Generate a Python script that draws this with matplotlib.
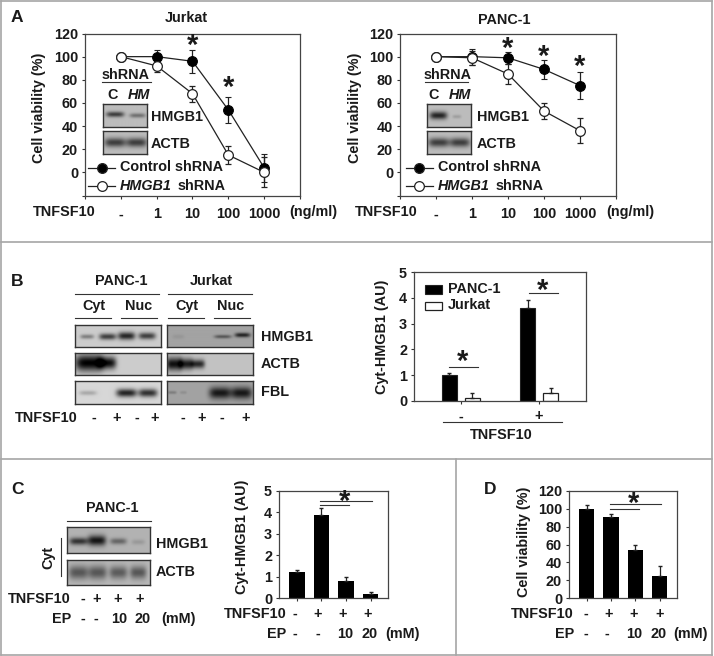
import numpy as np
import matplotlib
matplotlib.use("Agg")
import matplotlib.pyplot as plt
from matplotlib.lines import Line2D
from matplotlib.patches import Rectangle

plt.rcParams['font.family'] = ['Liberation Sans', 'DejaVu Sans']
plt.rcParams['font.weight'] = 'bold'
plt.rcParams['axes.linewidth'] = 0.9
plt.rcParams['axes.edgecolor'] = '#444444'
plt.rcParams['text.color'] = '#1a1a1a'
plt.rcParams['xtick.color'] = '#333333'
plt.rcParams['ytick.color'] = '#333333'
plt.rcParams['xtick.labelcolor'] = '#1a1a1a'
plt.rcParams['ytick.labelcolor'] = '#1a1a1a'

W, H = 714, 656
FS = 10.4

dose_labels = ['-', '1', '10', '100', '1000']
jurkat_ctrl = [100, 100, 96, 54, 4]
jurkat_ctrl_err = [0, 6, 10, 11, 12]
jurkat_hm = [100, 92, 68, 15, 0]
jurkat_hm_err = [0, 5, 7, 8, 13]
panc_ctrl = [100, 100, 99, 89, 75]
panc_ctrl_err = [0, 7, 5, 8, 12]
panc_hm = [100, 99, 85, 53, 36]
panc_hm_err = [0, 6, 9, 7, 11]

b_panc = [1.0, 3.6]
b_panc_err = [0.1, 0.3]
b_jurkat = [0.1, 0.3]
b_jurkat_err = [0.2, 0.2]

c_vals = [1.2, 3.9, 0.8, 0.2]
c_err = [0.1, 0.3, 0.2, 0.1]
d_vals = [100, 91, 54, 25]
d_err = [4, 3, 6, 11]

fig = plt.figure(figsize=(W / 100, H / 100), dpi=100, facecolor='white')


def box_axes(left, top, right, bottom):
    return fig.add_axes([left / W, 1 - bottom / H, (right - left) / W, (bottom - top) / H])


def txt(x, y, s, ha='center', size=FS, **kw):
    fig.text(x / W, 1 - y / H, s, ha=ha, va='center', fontsize=size, **kw)


def line(x0, y0, x1, y1, color='#333333', lw=0.8):
    fig.add_artist(Line2D([x0 / W, x1 / W], [1 - y0 / H, 1 - y1 / H], color=color, lw=lw))


def star(x, y):
    txt(x, y + 5, '*', size=21)


# gel picture, bands = (x centre, y centre, half width, half height, darkness) as fractions
def blot(left, top, right, bottom, bg, bands):
    ax = box_axes(left, top, right, bottom)
    ny, nx = int(bottom - top) * 3, int(right - left) * 3
    xx, yy = np.meshgrid(np.linspace(0, 1, nx), np.linspace(0, 1, ny))
    img = np.full((ny, nx), bg, dtype=float)
    for xc, yc, wx, wy, dark in bands:
        img -= dark * np.exp(-((xx - xc) / wx) ** 4 - ((yy - yc) / wy) ** 2)
    ax.imshow(np.clip(img, 0, 1), cmap='gray', vmin=0, vmax=1, aspect='auto')
    ax.set_xticks([])
    ax.set_yticks([])
    for s in ax.spines.values():
        s.set_color('#333333')
        s.set_linewidth(1.0)


def viability(left, right, ctrl, ctrl_err, hm, hm_err, ylab_x):
    ax = box_axes(left, 33.5, right, 195.5)
    x = np.arange(1, 6)
    ax.errorbar(x, ctrl, yerr=ctrl_err, color='#222222', lw=0.9, elinewidth=0.9, capsize=2.3,
                marker='o', ms=7.0, mfc='black', mec='black', mew=0.8)
    ax.errorbar(x, hm, yerr=hm_err, color='#222222', lw=0.9, elinewidth=0.9, capsize=2.3,
                marker='o', ms=7.0, mfc='white', mec='#222222', mew=0.9)
    ax.set_xlim(0, 6)
    ax.set_ylim(-20, 120)
    ax.set_xticks(np.arange(0, 7))
    ax.set_xticklabels([''] + dose_labels + [''], fontsize=FS)
    ax.set_yticks(np.arange(-20, 121, 20))
    ax.set_yticklabels([''] + [str(v) for v in range(0, 121, 20)], fontsize=FS)
    ax.tick_params(axis='x', length=2.5, width=0.8, pad=6)
    ax.tick_params(axis='y', length=2.5, width=0.8, pad=2.5)
    txt(ylab_x, 108, 'Cell viability (%)', rotation=90)
    return ax


def bars(left, right, vals, err, ymax, yticks):
    ax = box_axes(left, 491, right, 598)
    x = np.arange(len(vals))
    ax.bar(x, vals, width=0.63, color='black')
    ax.errorbar(x, vals, yerr=[np.zeros(len(err)), err], fmt='none', ecolor='#222222',
                elinewidth=0.9, capsize=1.5)
    ax.set_xlim(-0.73, 3.71)
    ax.set_ylim(0, ymax)
    ax.set_xticks(x)
    ax.set_xticklabels([])
    ax.set_yticks(yticks)
    ax.tick_params(axis='x', length=2, width=0.8)
    ax.tick_params(axis='y', length=2.5, width=0.8, labelsize=FS, pad=2.5)
    return ax


def sketch_inset(shr_x, line_x, c_x, hm_x, b_x, lab_x, leg_x, mark_x, text_x, sh_x, bands_top, bands_bot):
    txt(shr_x, 75, 'shRNA')
    line(line_x[0], 81.5, line_x[1], 81.5)
    txt(c_x, 95, 'C')
    txt(hm_x, 95, 'HM', style='italic')
    blot(b_x[0], 104, b_x[1], 127, 0.74, bands_top)
    blot(b_x[0], 131, b_x[1], 154, 0.74, bands_bot)
    txt(lab_x, 117, 'HMGB1', ha='left')
    txt(lab_x, 144, 'ACTB', ha='left')
    for y, fc in [(168, 'black'), (186, 'white')]:
        line(leg_x[0], y, leg_x[1], y, color='#222222', lw=0.9)
        fig.add_artist(Line2D([mark_x / W], [1 - y / H], marker='o', ms=7.0, mfc=fc, mec='#222222', mew=0.9))
    txt(text_x, 167, 'Control shRNA', ha='left')
    txt(text_x, 186, 'HMGB1', ha='left', style='italic')
    txt(sh_x, 186, 'shRNA', ha='left')


# panel frames
for seg in [(1, 1, 712, 1), (1, 1, 1, 655), (1, 655, 712, 655), (712, 1, 712, 655),
            (1, 242, 712, 242), (1, 459, 712, 459), (456, 459, 456, 655)]:
    line(*seg, color='#a6a6a6', lw=1.2)

# A
txt(11, 17, 'A', ha='left', size=12.5)
txt(186, 18, 'Jurkat')
txt(504, 20, 'PANC-1')
viability(85, 300, jurkat_ctrl, jurkat_ctrl_err, jurkat_hm, jurkat_hm_err, 39)
viability(400, 616, panc_ctrl, panc_ctrl_err, panc_hm, panc_hm_err, 355)
txt(33, 212, 'TNFSF10', ha='left')
txt(355, 212, 'TNFSF10', ha='left')
txt(289, 212, '(ng/ml)', ha='left')
txt(606, 212, '(ng/ml)', ha='left')
star(193, 41)
star(229, 83)
star(508, 44)
star(544, 52)
star(580, 62)
actb_pair = [(0.27, 0.5, 0.24, 0.2, 0.5), (0.75, 0.5, 0.23, 0.2, 0.5)]
sketch_inset(126, (102, 151), 113, 139, (103, 147), 151, (88, 115), 102, 120, 178,
             [(0.27, 0.45, 0.2, 0.12, 0.5), (0.77, 0.5, 0.18, 0.1, 0.3)], actb_pair)
sketch_inset(448, (425, 468), 434, 460, (427, 471), 477, (406, 433), 419, 438, 496,
             [(0.26, 0.5, 0.2, 0.17, 0.6), (0.68, 0.55, 0.1, 0.08, 0.12)], actb_pair)

# B
txt(11, 281, 'B', ha='left', size=12.5)
txt(121, 281, 'PANC-1')
txt(211, 281, 'Jurkat')
line(75, 294, 159, 294)
line(168, 294, 252, 294)
for cx, x0, x1, s in [(94, 75, 111, 'Cyt'), (139, 121, 157, 'Nuc'), (187, 168, 204, 'Cyt'), (231, 214, 250, 'Nuc')]:
    txt(cx, 306, s)
    line(x0, 318, x1, 318)

blot(75, 325, 161, 347, 0.80, [(0.14, 0.55, 0.08, 0.1, 0.3), (0.38, 0.55, 0.1, 0.14, 0.55),
                               (0.6, 0.52, 0.1, 0.17, 0.65), (0.84, 0.52, 0.1, 0.15, 0.55)])
blot(167, 325, 253, 347, 0.64, [(0.13, 0.55, 0.07, 0.1, 0.05), (0.65, 0.55, 0.1, 0.08, 0.3),
                                (0.88, 0.48, 0.09, 0.1, 0.5)])
blot(75, 353, 161, 375, 0.80, [(0.16, 0.45, 0.16, 0.38, 0.8), (0.37, 0.45, 0.11, 0.28, 0.75)])
blot(167, 353, 253, 375, 0.76, [(0.08, 0.5, 0.09, 0.3, 0.7), (0.22, 0.5, 0.08, 0.25, 0.65), (0.36, 0.5, 0.08, 0.2, 0.6)])
blot(75, 381, 161, 404, 0.84, [(0.15, 0.52, 0.1, 0.1, 0.18), (0.6, 0.52, 0.12, 0.18, 0.7), (0.85, 0.52, 0.11, 0.18, 0.65)])
blot(167, 381, 253, 404, 0.64, [(0.06, 0.5, 0.05, 0.07, 0.15), (0.19, 0.5, 0.04, 0.07, 0.08),
                                (0.62, 0.52, 0.13, 0.26, 0.55), (0.87, 0.52, 0.12, 0.26, 0.55)])
txt(261, 337, 'HMGB1', ha='left')
txt(261, 364, 'ACTB', ha='left')
txt(261, 392, 'FBL', ha='left')
txt(15, 418, 'TNFSF10', ha='left')
for x, s in zip([94, 117, 137, 155, 183, 202, 222, 246], '-+-+-+-+'):
    txt(x, 418, s)

ax = box_axes(414, 272, 586, 401)
x = np.arange(2)
ax.bar(x - 0.147, b_panc, width=0.19, color='black', edgecolor='#222222', lw=0.8)
ax.bar(x + 0.147, b_jurkat, width=0.19, color='white', edgecolor='#222222', lw=0.9)
ax.errorbar(x - 0.147, b_panc, yerr=[[0, 0], b_panc_err], fmt='none', ecolor='#222222', elinewidth=0.9, capsize=1.5)
ax.errorbar(x + 0.147, b_jurkat, yerr=[[0, 0], b_jurkat_err], fmt='none', ecolor='#222222', elinewidth=0.9, capsize=1.5)
ax.set_xlim(-0.6, 1.6)
ax.set_ylim(0, 5)
ax.set_xticks(x)
ax.set_xticklabels(['-', '+'], fontsize=FS)
ax.set_yticks(range(0, 6))
ax.tick_params(axis='x', length=2, width=0.8, pad=4)
ax.tick_params(axis='y', length=2.5, width=0.8, labelsize=FS, pad=2.5)
txt(382, 337, 'Cyt-HMGB1 (AU)', rotation=90)
fig.add_artist(Rectangle((425 / W, 1 - 294 / H), 17 / W, 9 / H, fc='black', ec='#222222', lw=0.8))
fig.add_artist(Rectangle((425 / W, 1 - 310 / H), 17 / W, 8 / H, fc='white', ec='#222222', lw=0.9))
txt(448, 289, 'PANC-1', ha='left')
txt(448, 305, 'Jurkat', ha='left')
line(449, 367, 478, 367)
star(463, 357)
line(529, 293, 558, 293)
star(543, 286)
line(443, 422, 562, 422)
txt(501, 435, 'TNFSF10')

# C
txt(11, 490, 'C', ha='left', size=12.5)
txt(112, 508, 'PANC-1')
line(67, 521, 151, 521)
blot(67, 527, 150, 553, 0.70, [(0.14, 0.55, 0.11, 0.14, 0.5), (0.36, 0.52, 0.11, 0.2, 0.62),
                               (0.62, 0.55, 0.1, 0.12, 0.3), (0.86, 0.58, 0.08, 0.1, 0.1)])
blot(67, 560, 150, 585, 0.72, [(0.14, 0.5, 0.12, 0.28, 0.38), (0.37, 0.5, 0.11, 0.28, 0.38),
                               (0.62, 0.5, 0.11, 0.26, 0.36), (0.86, 0.5, 0.1, 0.26, 0.38)])
txt(156, 544, 'HMGB1', ha='left')
txt(156, 572, 'ACTB', ha='left')
txt(48, 557, 'Cyt', rotation=90)
line(60.5, 538, 60.5, 576)
txt(8, 599, 'TNFSF10', ha='left')
for x_, s in zip([83, 97, 118, 140], '-+++'):
    txt(x_, 599, s)
txt(52, 619, 'EP', ha='left')
for x_, s in zip([83, 96, 119, 143], ['-', '-', '10', '20']):
    txt(x_, 619, s)
txt(161, 619, '(mM)', ha='left')

bars(279, 388, c_vals, c_err, 5, range(0, 6))
txt(242, 537, 'Cyt-HMGB1 (AU)', rotation=90)
line(320, 501, 372, 501)
line(320, 505, 349, 505)
star(345, 497)
txt(224, 614, 'TNFSF10', ha='left')
for x_, s in zip([295, 318, 343, 368], '-+++'):
    txt(x_, 614, s)
txt(267, 634, 'EP', ha='left')
for x_, s in zip([295, 318, 345, 370], ['-', '-', '10', '20']):
    txt(x_, 634, s)
txt(385, 634, '(mM)', ha='left')

# D
txt(484, 490, 'D', ha='left', size=12.5)
bars(569, 677, d_vals, d_err, 120, range(0, 121, 20))
txt(524, 542, 'Cell viability (%)', rotation=90)
line(610, 504, 661, 504)
line(610, 509, 639, 509)
star(634, 499)
txt(511, 614, 'TNFSF10', ha='left')
for x_, s in zip([586, 609, 634, 660], '-+++'):
    txt(x_, 614, s)
txt(555, 634, 'EP', ha='left')
for x_, s in zip([586, 607, 634, 659], ['-', '-', '10', '20']):
    txt(x_, 634, s)
txt(673, 634, '(mM)', ha='left')

fig.savefig('out.png', dpi=100)
